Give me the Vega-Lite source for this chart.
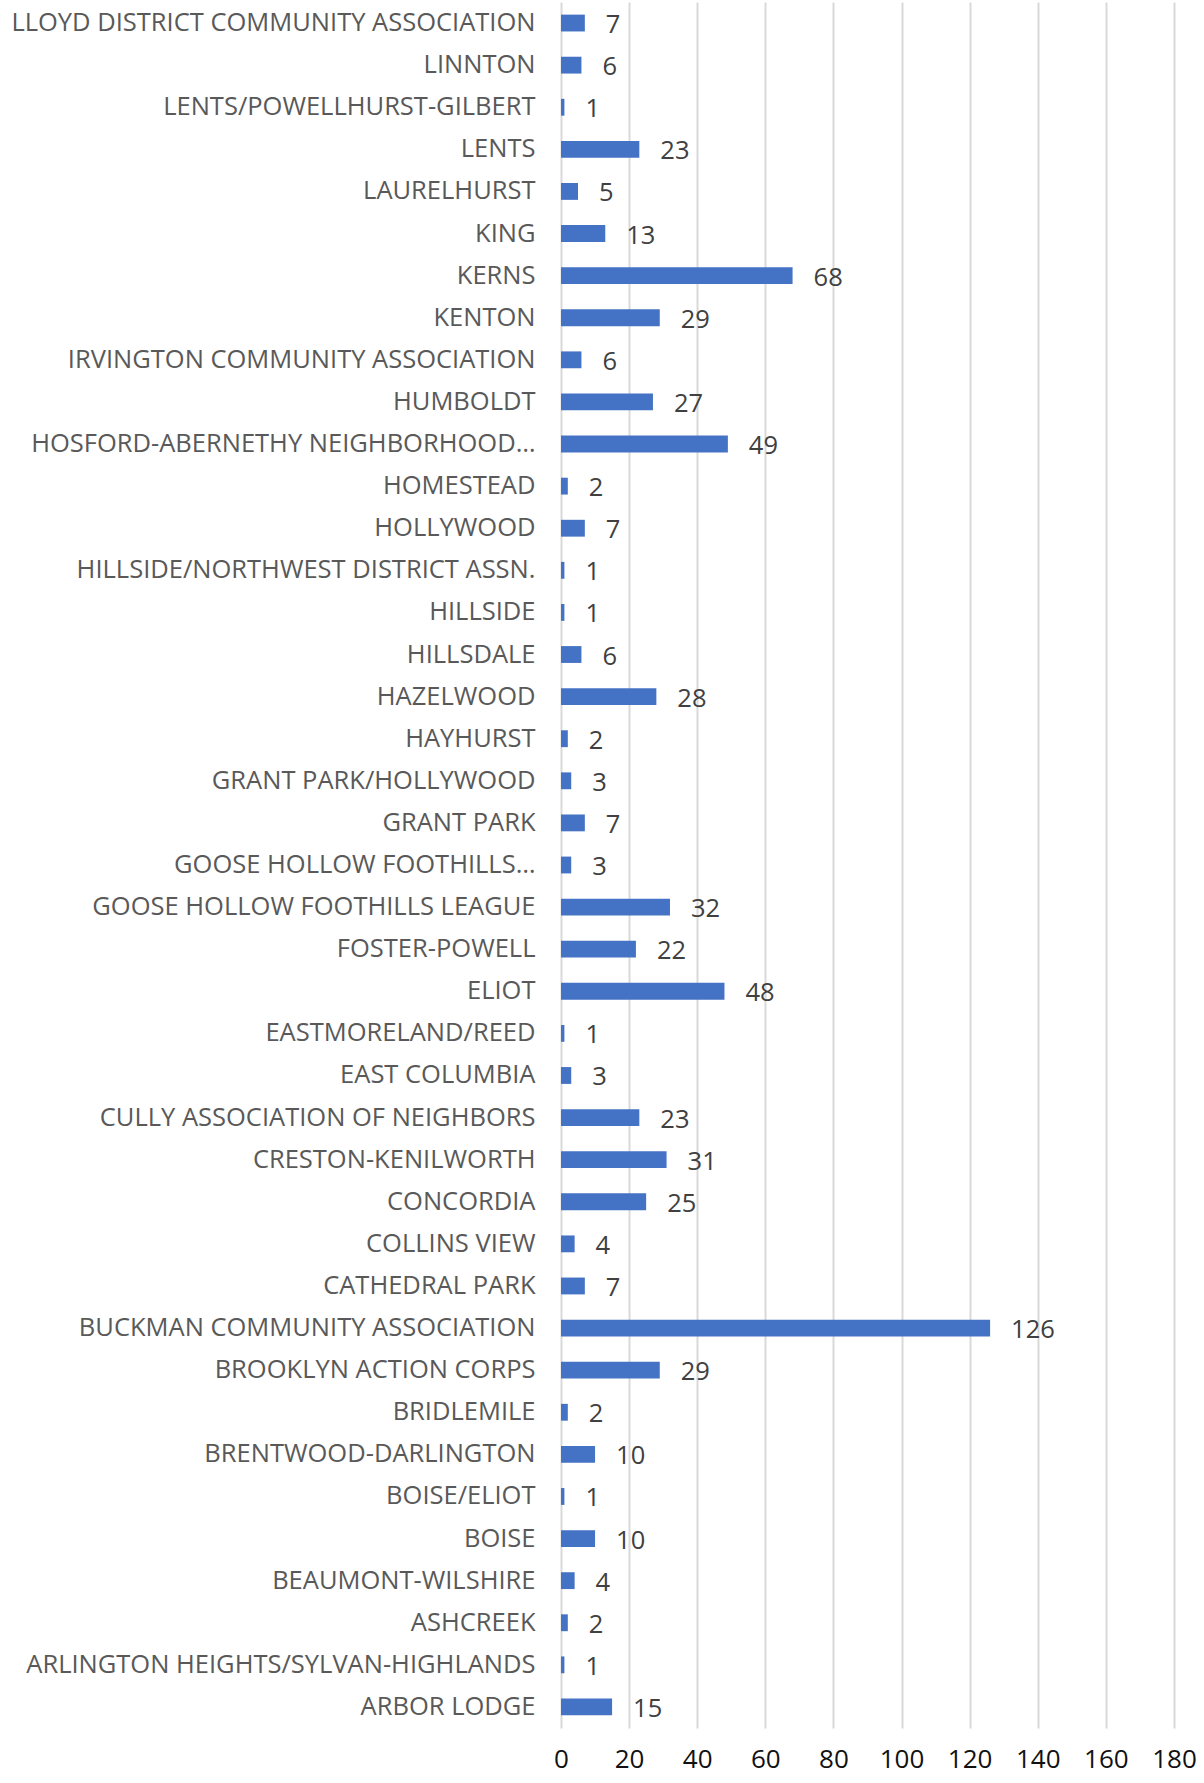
{
  "$schema": "https://vega.github.io/schema/vega-lite/v6.json",
  "autosize": "none",
  "width": 613,
  "height": 1726,
  "padding": {"left": 561, "top": 2, "right": 30, "bottom": 55},
  "background": "white",
  "config": {"view": {"stroke": null}, "font": "Open Sans"},
  "data": {
    "values": [
      {"name": "LLOYD DISTRICT COMMUNITY ASSOCIATION", "n": 7},
      {"name": "LINNTON", "n": 6},
      {"name": "LENTS/POWELLHURST-GILBERT", "n": 1},
      {"name": "LENTS", "n": 23},
      {"name": "LAURELHURST", "n": 5},
      {"name": "KING", "n": 13},
      {"name": "KERNS", "n": 68},
      {"name": "KENTON", "n": 29},
      {"name": "IRVINGTON COMMUNITY ASSOCIATION", "n": 6},
      {"name": "HUMBOLDT", "n": 27},
      {"name": "HOSFORD-ABERNETHY NEIGHBORHOOD…", "n": 49},
      {"name": "HOMESTEAD", "n": 2},
      {"name": "HOLLYWOOD", "n": 7},
      {"name": "HILLSIDE/NORTHWEST DISTRICT ASSN.", "n": 1},
      {"name": "HILLSIDE", "n": 1},
      {"name": "HILLSDALE", "n": 6},
      {"name": "HAZELWOOD", "n": 28},
      {"name": "HAYHURST", "n": 2},
      {"name": "GRANT PARK/HOLLYWOOD", "n": 3},
      {"name": "GRANT PARK", "n": 7},
      {"name": "GOOSE HOLLOW FOOTHILLS…", "n": 3},
      {"name": "GOOSE HOLLOW FOOTHILLS LEAGUE", "n": 32},
      {"name": "FOSTER-POWELL", "n": 22},
      {"name": "ELIOT", "n": 48},
      {"name": "EASTMORELAND/REED", "n": 1},
      {"name": "EAST COLUMBIA", "n": 3},
      {"name": "CULLY ASSOCIATION OF NEIGHBORS", "n": 23},
      {"name": "CRESTON-KENILWORTH", "n": 31},
      {"name": "CONCORDIA", "n": 25},
      {"name": "COLLINS VIEW", "n": 4},
      {"name": "CATHEDRAL PARK", "n": 7},
      {"name": "BUCKMAN COMMUNITY ASSOCIATION", "n": 126},
      {"name": "BROOKLYN ACTION CORPS", "n": 29},
      {"name": "BRIDLEMILE", "n": 2},
      {"name": "BRENTWOOD-DARLINGTON", "n": 10},
      {"name": "BOISE/ELIOT", "n": 1},
      {"name": "BOISE", "n": 10},
      {"name": "BEAUMONT-WILSHIRE", "n": 4},
      {"name": "ASHCREEK", "n": 2},
      {"name": "ARLINGTON HEIGHTS/SYLVAN-HIGHLANDS", "n": 1},
      {"name": "ARBOR LODGE", "n": 15}
    ]
  },
  "encoding": {
    "y": {
      "field": "name", "type": "nominal", "sort": null, "title": null,
      "scale": {"paddingInner": 0.6, "paddingOuter": 0.3},
      "axis": {"domain": false, "ticks": false, "grid": false, "labelFont": "Open Sans", "labelFontSize": 25.5, "labelColor": "#595959", "labelPadding": 26, "labelLimit": 600}
    },
    "x": {
      "field": "n", "type": "quantitative", "title": null,
      "scale": {"domain": [0, 180], "nice": false},
      "axis": {"values": [0,20,40,60,80,100,120,140,160,180], "domain": false, "ticks": false, "grid": true, "gridColor": "#d9d9d9", "gridWidth": 2, "labelFont": "Open Sans", "labelFontSize": 26, "labelColor": "#111111", "labelPadding": 18, "labelFlush": false, "labelOverlap": false}
    }
  },
  "layer": [
    {"mark": {"type": "bar", "color": "#4472C4"}},
    {"mark": {"type": "text", "align": "left", "baseline": "middle", "dx": 21, "dy": 2, "font": "Open Sans", "fontSize": 25.5, "color": "#404040"}, "encoding": {"text": {"field": "n", "type": "quantitative"}}}
  ]
}
